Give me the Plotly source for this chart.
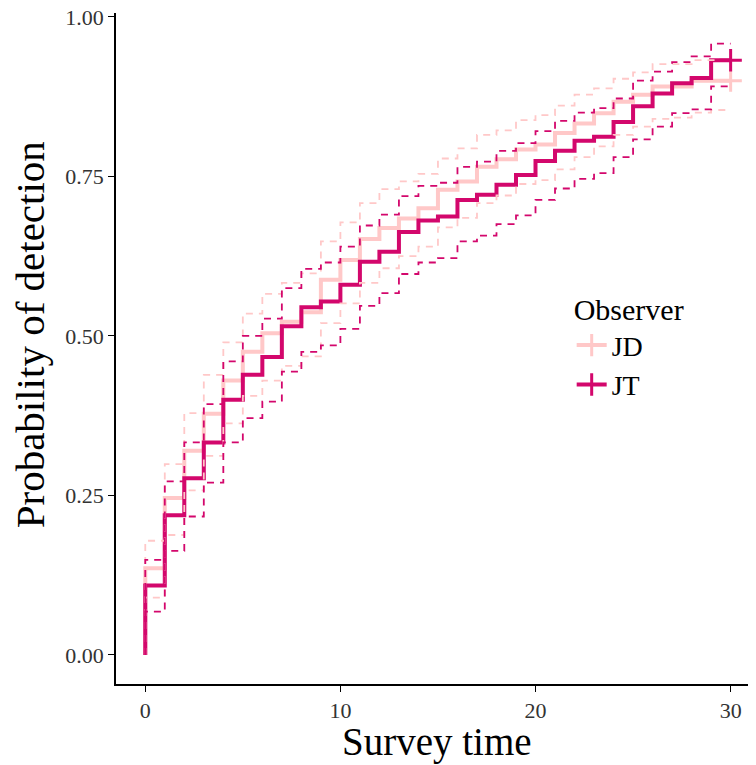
import plotly.graph_objects as go

# Interval start times (survey time), step value holds until next time
times = [0, 1, 2, 3, 4, 5, 6, 7, 8, 9, 10, 11, 12, 13, 14, 15, 16, 17, 18, 19,
         20, 21, 22, 23, 24, 25, 26, 27, 28, 29]
end_time = 30

jd_est = [0.136, 0.246, 0.320, 0.378, 0.430, 0.475, 0.504, 0.522, 0.537, 0.588,
          0.619, 0.652, 0.669, 0.684, 0.700, 0.729, 0.742, 0.765, 0.777, 0.792,
          0.800, 0.818, 0.833, 0.849, 0.867, 0.878, 0.891, 0.891, 0.900, 0.900]
jd_upper = [0.179, 0.299, 0.379, 0.439, 0.490, 0.535, 0.566, 0.583, 0.598, 0.648,
            0.678, 0.708, 0.730, 0.742, 0.754, 0.778, 0.794, 0.815, 0.822, 0.838,
            0.846, 0.861, 0.878, 0.888, 0.903, 0.913, 0.926, 0.926, 0.932, 0.932]
jd_lower = [0.090, 0.188, 0.258, 0.312, 0.363, 0.406, 0.430, 0.453, 0.468, 0.520,
            0.551, 0.583, 0.606, 0.625, 0.640, 0.670, 0.685, 0.708, 0.720, 0.738,
            0.744, 0.761, 0.780, 0.797, 0.815, 0.828, 0.840, 0.842, 0.850, 0.854]

jt_est = [0.109, 0.219, 0.277, 0.333, 0.400, 0.439, 0.467, 0.515, 0.545, 0.554,
          0.580, 0.616, 0.632, 0.663, 0.681, 0.687, 0.713, 0.721, 0.737, 0.752,
          0.774, 0.790, 0.806, 0.812, 0.835, 0.860, 0.880, 0.896, 0.904, 0.932]
jt_upper = [0.149, 0.272, 0.333, 0.393, 0.460, 0.500, 0.527, 0.575, 0.605, 0.615,
            0.640, 0.673, 0.690, 0.719, 0.735, 0.740, 0.765, 0.773, 0.790, 0.802,
            0.821, 0.837, 0.850, 0.857, 0.872, 0.900, 0.914, 0.929, 0.938, 0.958]
jt_lower = [0.068, 0.163, 0.217, 0.270, 0.333, 0.371, 0.397, 0.444, 0.475, 0.485,
            0.511, 0.547, 0.567, 0.597, 0.615, 0.622, 0.648, 0.657, 0.675, 0.689,
            0.713, 0.731, 0.746, 0.755, 0.780, 0.808, 0.828, 0.849, 0.855, 0.891]

x_ticks = [0, 10, 20, 30]
y_ticks = [0.0, 0.25, 0.5, 0.75, 1.0]
y_tick_labels = ["0.00", "0.25", "0.50", "0.75", "1.00"]

groups = ["JD", "JT"]
colors = {"JD": "#FFC8C8", "JT": "#D3076C"}
series = {
    "JD": (jd_est, jd_lower, jd_upper),
    "JT": (jt_est, jt_lower, jt_upper),
}

FONT = "Liberation Serif, Times New Roman, serif"


def step_xy(vals):
    xs = [0] + list(times) + [end_time]
    ys = [0] + list(vals) + [vals[-1]]
    return xs, ys


fig = go.Figure()

# main step curves
for g in groups:
    est, lo, hi = series[g]
    xs, ys = step_xy(est)
    fig.add_trace(go.Scatter(x=xs, y=ys, mode="lines", line_shape="hv",
                             line=dict(color=colors[g], width=4),
                             showlegend=False, hoverinfo="skip"))

# confidence bands
for g in groups:
    est, lo, hi = series[g]
    for band in (lo, hi):
        xs, ys = step_xy(band)
        fig.add_trace(go.Scatter(x=xs, y=ys, mode="lines", line_shape="hv",
                                 line=dict(color=colors[g], width=1.8, dash="7px,6px"),
                                 showlegend=False, hoverinfo="skip"))

# censor marks at end
for g in groups:
    est, lo, hi = series[g]
    fig.add_trace(go.Scatter(x=[end_time], y=[est[-1]], mode="markers",
                             marker=dict(symbol="cross-thin-open", size=16,
                                         color=colors[g],
                                         line=dict(color=colors[g], width=3)),
                             showlegend=False, hoverinfo="skip"))

# legend entries
for g in groups:
    fig.add_trace(go.Scatter(x=[None], y=[None], mode="lines+markers", name=g,
                             line=dict(color=colors[g], width=4),
                             marker=dict(symbol="line-ns-open", size=16,
                                         color=colors[g],
                                         line=dict(color=colors[g], width=3))))

fig.update_layout(
    width=756, height=765,
    margin=dict(l=108, r=8, t=5, b=89, autoexpand=False),
    plot_bgcolor="white", paper_bgcolor="white",
    font=dict(family=FONT, color="black"),
    legend=dict(
        title=dict(text="Observer", font=dict(size=30, family=FONT, color="black")),
        font=dict(size=28, family=FONT, color="black"),
        x=0.712, y=0.600, xanchor="left", yanchor="top",
        bgcolor="rgba(0,0,0,0)", itemwidth=30, tracegroupgap=0,
    ),
    xaxis=dict(
        range=[-1.5, 31.3], tickvals=x_ticks, ticks="outside", ticklen=6,
        tickwidth=1.3, tickcolor="black", showline=True, linecolor="black",
        linewidth=1.5, showgrid=False, zeroline=False, automargin=False,
        ticklabeloverflow="allow",
        tickfont=dict(size=22, family=FONT, color="#333333"),
    ),
    yaxis=dict(
        range=[-0.0455, 1.006], tickvals=y_ticks, ticktext=y_tick_labels,
        ticks="outside", ticklen=6, tickwidth=1.3, tickcolor="black",
        showline=True, linecolor="black", linewidth=1.5, showgrid=False,
        zeroline=False, automargin=False, ticklabeloverflow="allow",
        tickfont=dict(size=22, family=FONT, color="#333333"),
    ),
    annotations=[
        dict(text="Survey time", xref="paper", yref="paper", x=0.5016, y=-0.0864,
             xanchor="center", yanchor="middle", showarrow=False,
             font=dict(size=39, family=FONT, color="black")),
        dict(text="Probability of detection", xref="paper", yref="paper",
             x=-0.134, y=0.52, xanchor="center", yanchor="middle",
             textangle=-90, showarrow=False,
             font=dict(size=41, family=FONT, color="black")),
    ],
)

fig.write_html("out.html")
